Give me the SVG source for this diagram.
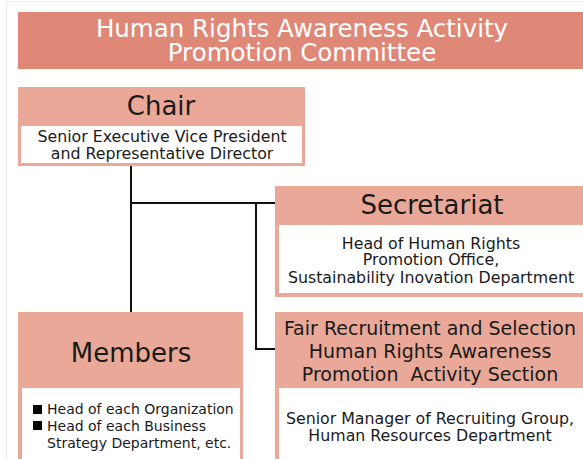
<svg xmlns="http://www.w3.org/2000/svg" width="583" height="459" viewBox="0 0 583 459">
<style>
text{font-family:"DejaVu Sans","Noto Sans",sans-serif;text-anchor:middle;fill:#1a1a1a}
.hdr{fill:#E9A898}
.wht{fill:#ffffff}
.t1{font-size:24.5px;fill:#ffffff}
.h{font-size:26px}
.h2{font-size:19px}
.b{font-size:15.8px}
.m{font-size:14px;text-anchor:start}
.conn{stroke:#111;stroke-width:2;fill:none}
</style>
<rect width="583" height="459" fill="#fff"/>
<path d="M6.5 459V1.5H583" stroke="#eeeeee" stroke-width="1" fill="none"/>
<g id="title">
<rect x="18" y="12" width="570" height="57" fill="#E08878"/>
<text class="t1" x="302" y="37">Human Rights Awareness Activity</text>
<text class="t1" x="302" y="61">Promotion Committee</text>
</g>
<g id="connectors">
<path class="conn" d="M131 166V312"/>
<path class="conn" d="M131 203H275"/>
<path class="conn" d="M256 203V349H275"/>
</g>
<g id="chair">
<rect class="hdr" x="18" y="87" width="287" height="79"/>
<rect class="wht" x="21" y="126" width="281" height="37"/>
<text class="h" x="161" y="115">Chair</text>
<text class="b" x="162" y="142">Senior Executive Vice President</text>
<text class="b" x="162" y="159">and Representative Director</text>
</g>
<g id="secretariat">
<rect class="hdr" x="275" y="186" width="320" height="111"/>
<rect class="wht" x="279" y="225" width="310" height="68"/>
<text class="h" x="432" y="214">Secretariat</text>
<text class="b" x="431" y="249">Head of Human Rights</text>
<text class="b" x="431" y="265">Promotion Office,</text>
<text class="b" x="431" y="283">Sustainability Inovation Department</text>
</g>
<g id="members">
<rect class="hdr" x="18" y="312" width="225" height="160"/>
<rect class="wht" x="22" y="388" width="218" height="80"/>
<text class="h" x="131" y="362">Members</text>
<rect x="33" y="405" width="9" height="9" fill="#000"/>
<rect x="33" y="421" width="9" height="9" fill="#000"/>
<text class="m" x="47" y="414">Head of each Organization</text>
<text class="m" x="47" y="431">Head of each Business</text>
<text class="m" x="47" y="448">Strategy Department, etc.</text>
</g>
<g id="fair-recruitment">
<rect class="hdr" x="275" y="312" width="320" height="160"/>
<rect class="wht" x="279" y="388" width="310" height="80"/>
<text class="h2" x="430" y="335">Fair Recruitment and Selection</text>
<text class="h2" x="430" y="358">Human Rights Awareness</text>
<text class="h2" x="430" y="381" xml:space="preserve">Promotion  Activity Section</text>
<text class="b" x="430" y="424">Senior Manager of Recruiting Group,</text>
<text class="b" x="430" y="441">Human Resources Department</text>
</g>
</svg>
